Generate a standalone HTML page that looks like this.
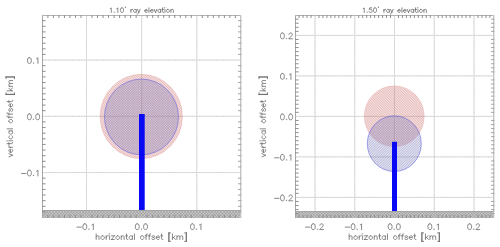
<!DOCTYPE html>
<html><head><meta charset="utf-8"><style>
html,body{margin:0;padding:0;background:#fff;}
body{width:500px;height:247px;overflow:hidden;}
svg{display:block;}
text{will-change:transform;text-rendering:geometricPrecision;stroke:#fff;stroke-width:0.35px;}
.t{font-family:"Liberation Sans",sans-serif;font-size:9px;fill:#606060;}
.tt{font-family:"Liberation Sans",sans-serif;font-size:7.1px;fill:#606060;}
.tx{font-family:"Liberation Sans",sans-serif;font-size:8.2px;fill:#606060;}
</style></head><body>
<svg width="500" height="247" viewBox="0 0 500 247" xmlns="http://www.w3.org/2000/svg">
<defs>
<pattern id="gnd" width="3" height="3" patternUnits="userSpaceOnUse"><rect x="0" y="0" width="1" height="1" fill="#9e9e9e"/><rect x="1" y="0" width="1" height="1" fill="#c2c2c2"/><rect x="2" y="0" width="1" height="1" fill="#c2c2c2"/><rect x="0" y="1" width="1" height="1" fill="#c2c2c2"/><rect x="1" y="1" width="1" height="1" fill="#aeaeae"/><rect x="2" y="1" width="1" height="1" fill="#aeaeae"/><rect x="0" y="2" width="1" height="1" fill="#c2c2c2"/><rect x="1" y="2" width="1" height="1" fill="#aeaeae"/><rect x="2" y="2" width="1" height="1" fill="#aeaeae"/></pattern>
<pattern id="hr" width="5" height="5" patternUnits="userSpaceOnUse"><g fill="rgb(198,95,95)"><rect x="0" y="0" width="1" height="1" fill-opacity="0.412"/><rect x="1" y="0" width="1" height="1" fill-opacity="0.210"/><rect x="2" y="0" width="1" height="1" fill-opacity="0.335"/><rect x="3" y="0" width="1" height="1" fill-opacity="0.335"/><rect x="4" y="0" width="1" height="1" fill-opacity="0.210"/><rect x="0" y="1" width="1" height="1" fill-opacity="0.210"/><rect x="1" y="1" width="1" height="1" fill-opacity="0.412"/><rect x="2" y="1" width="1" height="1" fill-opacity="0.210"/><rect x="3" y="1" width="1" height="1" fill-opacity="0.335"/><rect x="4" y="1" width="1" height="1" fill-opacity="0.335"/><rect x="0" y="2" width="1" height="1" fill-opacity="0.335"/><rect x="1" y="2" width="1" height="1" fill-opacity="0.210"/><rect x="2" y="2" width="1" height="1" fill-opacity="0.412"/><rect x="3" y="2" width="1" height="1" fill-opacity="0.210"/><rect x="4" y="2" width="1" height="1" fill-opacity="0.335"/><rect x="0" y="3" width="1" height="1" fill-opacity="0.335"/><rect x="1" y="3" width="1" height="1" fill-opacity="0.335"/><rect x="2" y="3" width="1" height="1" fill-opacity="0.210"/><rect x="3" y="3" width="1" height="1" fill-opacity="0.412"/><rect x="4" y="3" width="1" height="1" fill-opacity="0.210"/><rect x="0" y="4" width="1" height="1" fill-opacity="0.210"/><rect x="1" y="4" width="1" height="1" fill-opacity="0.335"/><rect x="2" y="4" width="1" height="1" fill-opacity="0.335"/><rect x="3" y="4" width="1" height="1" fill-opacity="0.210"/><rect x="4" y="4" width="1" height="1" fill-opacity="0.412"/></g></pattern>
<pattern id="hb" width="5" height="5" patternUnits="userSpaceOnUse"><g fill="rgb(127,127,188)"><rect x="0" y="0" width="1" height="1" fill-opacity="0.494"/><rect x="1" y="0" width="1" height="1" fill-opacity="0.252"/><rect x="2" y="0" width="1" height="1" fill-opacity="0.401"/><rect x="3" y="0" width="1" height="1" fill-opacity="0.401"/><rect x="4" y="0" width="1" height="1" fill-opacity="0.252"/><rect x="0" y="1" width="1" height="1" fill-opacity="0.252"/><rect x="1" y="1" width="1" height="1" fill-opacity="0.401"/><rect x="2" y="1" width="1" height="1" fill-opacity="0.401"/><rect x="3" y="1" width="1" height="1" fill-opacity="0.252"/><rect x="4" y="1" width="1" height="1" fill-opacity="0.494"/><rect x="0" y="2" width="1" height="1" fill-opacity="0.401"/><rect x="1" y="2" width="1" height="1" fill-opacity="0.401"/><rect x="2" y="2" width="1" height="1" fill-opacity="0.252"/><rect x="3" y="2" width="1" height="1" fill-opacity="0.494"/><rect x="4" y="2" width="1" height="1" fill-opacity="0.252"/><rect x="0" y="3" width="1" height="1" fill-opacity="0.401"/><rect x="1" y="3" width="1" height="1" fill-opacity="0.252"/><rect x="2" y="3" width="1" height="1" fill-opacity="0.494"/><rect x="3" y="3" width="1" height="1" fill-opacity="0.252"/><rect x="4" y="3" width="1" height="1" fill-opacity="0.401"/><rect x="0" y="4" width="1" height="1" fill-opacity="0.252"/><rect x="1" y="4" width="1" height="1" fill-opacity="0.494"/><rect x="2" y="4" width="1" height="1" fill-opacity="0.252"/><rect x="3" y="4" width="1" height="1" fill-opacity="0.401"/><rect x="4" y="4" width="1" height="1" fill-opacity="0.401"/></g></pattern>
</defs>
<rect width="500" height="247" fill="#fff"/>
<line x1="86.5" y1="16" x2="86.5" y2="218" stroke="#e2e2e2" stroke-width="1"/>
<line x1="86.5" y1="16" x2="86.5" y2="218" stroke="#d0d0d0" stroke-width="1" stroke-dasharray="1.2 1.2"/>
<line x1="43" y1="172.55" x2="241" y2="172.55" stroke="#e2e2e2" stroke-width="1"/>
<line x1="43" y1="172.55" x2="241" y2="172.55" stroke="#d0d0d0" stroke-width="1" stroke-dasharray="1.2 1.2"/>
<line x1="141.65" y1="16" x2="141.65" y2="218" stroke="#e2e2e2" stroke-width="1"/>
<line x1="141.65" y1="16" x2="141.65" y2="218" stroke="#d0d0d0" stroke-width="1" stroke-dasharray="1.2 1.2"/>
<line x1="43" y1="116.3" x2="241" y2="116.3" stroke="#e2e2e2" stroke-width="1"/>
<line x1="43" y1="116.3" x2="241" y2="116.3" stroke="#d0d0d0" stroke-width="1" stroke-dasharray="1.2 1.2"/>
<line x1="196.8" y1="16" x2="196.8" y2="218" stroke="#e2e2e2" stroke-width="1"/>
<line x1="196.8" y1="16" x2="196.8" y2="218" stroke="#d0d0d0" stroke-width="1" stroke-dasharray="1.2 1.2"/>
<line x1="43" y1="60.05" x2="241" y2="60.05" stroke="#e2e2e2" stroke-width="1"/>
<line x1="43" y1="60.05" x2="241" y2="60.05" stroke="#d0d0d0" stroke-width="1" stroke-dasharray="1.2 1.2"/>
<rect x="42" y="210" width="199" height="8" fill="url(#gnd)"/>
<ellipse cx="141.25" cy="116.5" rx="41.2" ry="42.2" fill="url(#hr)" stroke="rgba(215,115,115,0.35)" stroke-width="0.7"/>
<ellipse cx="141.45" cy="116.95" rx="37.0" ry="37.9" fill="url(#hb)" stroke="rgba(90,90,220,0.6)" stroke-width="0.9"/>
<rect x="139" y="114" width="5.7" height="96" fill="#0808f4"/>
<rect x="42" y="15" width="1" height="203" fill="#a6a6a6"/>
<rect x="42" y="15" width="199" height="1" fill="#b4b4b4"/>
<rect x="240" y="15" width="1.4" height="203" fill="#c4c4c4"/>
<rect x="42" y="210.0" width="199" height="1" fill="#a4a4a4"/>
<path d="M47.9,15v3M47.9,218v-3M42,211.93h3.6M53.41,15v3M53.41,218v-3M42,206.3h3.6M58.93,15v3M58.93,218v-3M42,200.68h3.6M64.44,15v3M64.44,218v-3M42,195.05h3.6M69.96,15v3M69.96,218v-3M42,189.43h3.6M75.47,15v3M75.47,218v-3M42,183.8h3.6M80.99,15v3M80.99,218v-3M42,178.18h3.6M92.02,15v3M92.02,218v-3M42,166.93h3.6M97.53,15v3M97.53,218v-3M42,161.3h3.6M103.05,15v3M103.05,218v-3M42,155.68h3.6M108.56,15v3M108.56,218v-3M42,150.05h3.6M114.08,15v3M114.08,218v-3M42,144.43h3.6M119.59,15v3M119.59,218v-3M42,138.8h3.6M125.11,15v3M125.11,218v-3M42,133.18h3.6M130.62,15v3M130.62,218v-3M42,127.55h3.6M136.14,15v3M136.14,218v-3M42,121.92h3.6M147.16,15v3M147.16,218v-3M42,110.67h3.6M152.68,15v3M152.68,218v-3M42,105.05h3.6M158.19,15v3M158.19,218v-3M42,99.42h3.6M163.71,15v3M163.71,218v-3M42,93.8h3.6M169.23,15v3M169.23,218v-3M42,88.17h3.6M174.74,15v3M174.74,218v-3M42,82.55h3.6M180.25,15v3M180.25,218v-3M42,76.92h3.6M185.77,15v3M185.77,218v-3M42,71.3h3.6M191.28,15v3M191.28,218v-3M42,65.67h3.6M202.31,15v3M202.31,218v-3M42,54.42h3.6M207.83,15v3M207.83,218v-3M42,48.8h3.6M213.34,15v3M213.34,218v-3M42,43.17h3.6M218.86,15v3M218.86,218v-3M42,37.55h3.6M224.38,15v3M224.38,218v-3M42,31.92h3.6M229.89,15v3M229.89,218v-3M42,26.3h3.6M235.41,15v3M235.41,218v-3M42,20.67h3.6" stroke="#8e8e8e" stroke-width="1" fill="none"/>
<path d="M241.4,211.93h-3.4M241.4,206.3h-3.4M241.4,200.68h-3.4M241.4,195.05h-3.4M241.4,189.43h-3.4M241.4,183.8h-3.4M241.4,178.18h-3.4M241.4,166.93h-3.4M241.4,161.3h-3.4M241.4,155.68h-3.4M241.4,150.05h-3.4M241.4,144.43h-3.4M241.4,138.8h-3.4M241.4,133.18h-3.4M241.4,127.55h-3.4M241.4,121.92h-3.4M241.4,110.67h-3.4M241.4,105.05h-3.4M241.4,99.42h-3.4M241.4,93.8h-3.4M241.4,88.17h-3.4M241.4,82.55h-3.4M241.4,76.92h-3.4M241.4,71.3h-3.4M241.4,65.67h-3.4M241.4,54.42h-3.4M241.4,48.8h-3.4M241.4,43.17h-3.4M241.4,37.55h-3.4M241.4,31.92h-3.4M241.4,26.3h-3.4M241.4,20.67h-3.4" stroke="#a6a6a6" stroke-width="1" fill="none"/>
<g fill="none" stroke="#606060" stroke-width="0.75" stroke-linecap="round" stroke-linejoin="round"><path d="M76.97,227.12L81.45,227.12M84.53,223.82L83.71,224.1L83.16,224.92L82.88,226.3L82.88,227.12L83.16,228.5L83.71,229.32L84.53,229.6L85.08,229.6L85.91,229.32L86.46,228.5L86.73,227.12L86.73,226.3L86.46,224.92L85.91,224.1L85.08,223.82L84.53,223.82M88.93,229.05L88.66,229.32L88.93,229.6L89.21,229.32L88.93,229.05M91.96,224.92L92.51,224.65L93.33,223.82L93.33,229.6"/><path d="M21.56,173.47L26.04,173.47M29.12,170.16L28.3,170.44L27.75,171.26L27.47,172.64L27.47,173.47L27.75,174.84L28.3,175.66L29.12,175.94L29.67,175.94L30.5,175.66L31.05,174.84L31.32,173.47L31.32,172.64L31.05,171.26L30.5,170.44L29.67,170.16L29.12,170.16M33.52,175.39L33.25,175.66L33.52,175.94L33.8,175.66L33.52,175.39M36.55,171.26L37.1,170.99L37.92,170.16L37.92,175.94"/><path d="M137,223.82L136.18,224.1L135.62,224.92L135.35,226.3L135.35,227.12L135.62,228.5L136.18,229.32L137,229.6L137.55,229.6L138.38,229.32L138.93,228.5L139.2,227.12L139.2,226.3L138.93,224.92L138.38,224.1L137.55,223.82L137,223.82M141.4,229.05L141.12,229.32L141.4,229.6L141.68,229.32L141.4,229.05M145.25,223.82L144.43,224.1L143.88,224.92L143.6,226.3L143.6,227.12L143.88,228.5L144.43,229.32L145.25,229.6L145.8,229.6L146.62,229.32L147.18,228.5L147.45,227.12L147.45,226.3L147.18,224.92L146.62,224.1L145.8,223.82L145.25,223.82"/><path d="M29.12,113.91L28.3,114.19L27.75,115.02L27.47,116.39L27.47,117.22L27.75,118.59L28.3,119.41L29.12,119.69L29.67,119.69L30.5,119.41L31.05,118.59L31.32,117.22L31.32,116.39L31.05,115.02L30.5,114.19L29.67,113.91L29.12,113.91M33.52,119.14L33.25,119.41L33.52,119.69L33.8,119.41L33.52,119.14M37.38,113.91L36.55,114.19L36,115.02L35.73,116.39L35.73,117.22L36,118.59L36.55,119.41L37.38,119.69L37.92,119.69L38.75,119.41L39.3,118.59L39.58,117.22L39.58,116.39L39.3,115.02L38.75,114.19L37.92,113.91L37.38,113.91"/><path d="M192.15,223.82L191.33,224.1L190.78,224.92L190.5,226.3L190.5,227.12L190.78,228.5L191.33,229.32L192.15,229.6L192.7,229.6L193.53,229.32L194.08,228.5L194.35,227.12L194.35,226.3L194.08,224.92L193.53,224.1L192.7,223.82L192.15,223.82M196.55,229.05L196.28,229.32L196.55,229.6L196.83,229.32L196.55,229.05M199.58,224.92L200.12,224.65L200.95,223.82L200.95,229.6"/><path d="M29.12,57.66L28.3,57.94L27.75,58.77L27.47,60.14L27.47,60.96L27.75,62.34L28.3,63.16L29.12,63.44L29.67,63.44L30.5,63.16L31.05,62.34L31.32,60.96L31.32,60.14L31.05,58.77L30.5,57.94L29.67,57.66L29.12,57.66M33.52,62.89L33.25,63.16L33.52,63.44L33.8,63.16L33.52,62.89M36.55,58.77L37.1,58.49L37.92,57.66L37.92,63.44"/><path d="M110.16,8.71L110.6,8.49L111.26,7.83L111.26,12.45M114.34,12.01L114.12,12.23L114.34,12.45L114.56,12.23L114.34,12.01M116.75,8.71L117.19,8.49L117.85,7.83L117.85,12.45M121.81,7.83L121.15,8.05L120.71,8.71L120.49,9.81L120.49,10.47L120.71,11.57L121.15,12.23L121.81,12.45L122.25,12.45L122.91,12.23L123.35,11.57L123.57,10.47L123.57,9.81L123.35,8.71L122.91,8.05L122.25,7.83L121.81,7.83M130.92,9.37L130.92,12.45M130.92,10.69L131.14,10.03L131.58,9.59L132.02,9.37L132.68,9.37M136.19,9.37L136.19,12.45M136.19,10.03L135.75,9.59L135.32,9.37L134.66,9.37L134.22,9.59L133.78,10.03L133.56,10.69L133.56,11.13L133.78,11.79L134.22,12.23L134.66,12.45L135.32,12.45L135.75,12.23L136.19,11.79M137.51,9.37L138.83,12.45M140.15,9.37L138.83,12.45L138.39,13.33L137.95,13.77L137.51,13.99L137.29,13.99M144.77,10.69L147.4,10.69L147.4,10.25L147.18,9.81L146.96,9.59L146.53,9.37L145.87,9.37L145.43,9.59L144.99,10.03L144.77,10.69L144.77,11.13L144.99,11.79L145.43,12.23L145.87,12.45L146.53,12.45L146.96,12.23L147.4,11.79M148.94,7.83L148.94,12.45M150.48,10.69L153.12,10.69L153.12,10.25L152.9,9.81L152.68,9.59L152.24,9.37L151.58,9.37L151.14,9.59L150.7,10.03L150.48,10.69L150.48,11.13L150.7,11.79L151.14,12.23L151.58,12.45L152.24,12.45L152.68,12.23L153.12,11.79M154.22,9.37L155.54,12.45M156.86,9.37L155.54,12.45M160.59,9.37L160.59,12.45M160.59,10.03L160.15,9.59L159.71,9.37L159.05,9.37L158.61,9.59L158.17,10.03L157.95,10.69L157.95,11.13L158.17,11.79L158.61,12.23L159.05,12.45L159.71,12.45L160.15,12.23L160.59,11.79M162.57,7.83L162.57,11.57L162.79,12.23L163.23,12.45L163.67,12.45M161.91,9.37L163.45,9.37M164.77,7.83L164.99,8.05L165.21,7.83L164.99,7.61L164.77,7.83M164.99,9.37L164.99,12.45M167.63,9.37L167.19,9.59L166.75,10.03L166.53,10.69L166.53,11.13L166.75,11.79L167.19,12.23L167.63,12.45L168.29,12.45L168.72,12.23L169.16,11.79L169.38,11.13L169.38,10.69L169.16,10.03L168.72,9.59L168.29,9.37L167.63,9.37M170.92,9.37L170.92,12.45M170.92,10.25L171.58,9.59L172.02,9.37L172.68,9.37L173.12,9.59L173.34,10.25L173.34,12.45"/><circle cx="125.37" cy="7.14" r="0.6" fill="#606060" stroke="none"/><path d="M96.16,233.96L96.16,239.5M96.16,236.86L96.95,236.07L97.48,235.8L98.27,235.8L98.8,236.07L99.06,236.86L99.06,239.5M102.23,235.8L101.7,236.07L101.17,236.6L100.91,237.39L100.91,237.92L101.17,238.71L101.7,239.24L102.23,239.5L103.02,239.5L103.55,239.24L104.08,238.71L104.34,237.92L104.34,237.39L104.08,236.6L103.55,236.07L103.02,235.8L102.23,235.8M106.19,235.8L106.19,239.5M106.19,237.39L106.45,236.6L106.98,236.07L107.51,235.8L108.3,235.8M109.36,233.96L109.62,234.22L109.88,233.96L109.62,233.69L109.36,233.96M109.62,235.8L109.62,239.5M114.37,235.8L111.47,239.5M111.47,235.8L114.37,235.8M111.47,239.5L114.37,239.5M117.28,235.8L116.75,236.07L116.22,236.6L115.96,237.39L115.96,237.92L116.22,238.71L116.75,239.24L117.28,239.5L118.07,239.5L118.6,239.24L119.12,238.71L119.39,237.92L119.39,237.39L119.12,236.6L118.6,236.07L118.07,235.8L117.28,235.8M121.24,235.8L121.24,239.5M121.24,236.86L122.03,236.07L122.56,235.8L123.35,235.8L123.88,236.07L124.14,236.86L124.14,239.5M126.52,233.96L126.52,238.44L126.78,239.24L127.31,239.5L127.84,239.5M125.72,235.8L127.57,235.8M132.32,235.8L132.32,239.5M132.32,236.6L131.8,236.07L131.27,235.8L130.48,235.8L129.95,236.07L129.42,236.6L129.16,237.39L129.16,237.92L129.42,238.71L129.95,239.24L130.48,239.5L131.27,239.5L131.8,239.24L132.32,238.71M134.44,233.96L134.44,239.5M141.83,235.8L141.3,236.07L140.77,236.6L140.51,237.39L140.51,237.92L140.77,238.71L141.3,239.24L141.83,239.5L142.62,239.5L143.15,239.24L143.68,238.71L143.94,237.92L143.94,237.39L143.68,236.6L143.15,236.07L142.62,235.8L141.83,235.8M147.37,233.96L146.84,233.96L146.32,234.22L146.05,235.01L146.05,239.5M145.26,235.8L147.11,235.8M150.54,233.96L150.01,233.96L149.48,234.22L149.22,235.01L149.22,239.5M148.43,235.8L150.28,235.8M154.76,236.6L154.5,236.07L153.71,235.8L152.92,235.8L152.12,236.07L151.86,236.6L152.12,237.12L152.65,237.39L153.97,237.65L154.5,237.92L154.76,238.44L154.76,238.71L154.5,239.24L153.71,239.5L152.92,239.5L152.12,239.24L151.86,238.71M156.35,237.39L159.52,237.39L159.52,236.86L159.25,236.33L158.99,236.07L158.46,235.8L157.67,235.8L157.14,236.07L156.61,236.6L156.35,237.39L156.35,237.92L156.61,238.71L157.14,239.24L157.67,239.5L158.46,239.5L158.99,239.24L159.52,238.71M161.63,233.96L161.63,238.44L161.89,239.24L162.42,239.5L162.95,239.5M160.84,235.8L162.68,235.8M168.76,232.9L168.76,241.35M169.02,232.9L169.02,241.35M168.76,232.9L170.6,232.9M168.76,241.35L170.6,241.35M172.45,233.96L172.45,239.5M175.09,235.8L172.45,238.44M173.51,237.39L175.36,239.5M176.94,235.8L176.94,239.5M176.94,236.86L177.73,236.07L178.26,235.8L179.05,235.8L179.58,236.07L179.84,236.86L179.84,239.5M179.84,236.86L180.64,236.07L181.16,235.8L181.96,235.8L182.48,236.07L182.75,236.86L182.75,239.5M186.18,232.9L186.18,241.35M186.44,232.9L186.44,241.35M184.6,232.9L186.44,232.9M184.6,241.35L186.44,241.35"/><path d="M8.9,156.85L12.6,155.26M8.9,153.68L12.6,155.26M10.49,152.36L10.49,149.19L9.96,149.19L9.43,149.45L9.17,149.72L8.9,150.25L8.9,151.04L9.17,151.57L9.7,152.09L10.49,152.36L11.02,152.36L11.81,152.09L12.34,151.57L12.6,151.04L12.6,150.25L12.34,149.72L11.81,149.19M8.9,147.34L12.6,147.34M10.49,147.34L9.7,147.08L9.17,146.55L8.9,146.02L8.9,145.23M7.06,143.65L11.54,143.65L12.34,143.38L12.6,142.85L12.6,142.33M8.9,144.44L8.9,142.59M7.06,141.01L7.32,140.74L7.06,140.48L6.79,140.74L7.06,141.01M8.9,140.74L12.6,140.74M9.7,135.73L9.17,136.25L8.9,136.78L8.9,137.57L9.17,138.1L9.7,138.63L10.49,138.89L11.02,138.89L11.81,138.63L12.34,138.1L12.6,137.57L12.6,136.78L12.34,136.25L11.81,135.73M8.9,130.97L12.6,130.97M9.7,130.97L9.17,131.5L8.9,132.03L8.9,132.82L9.17,133.35L9.7,133.88L10.49,134.14L11.02,134.14L11.81,133.88L12.34,133.35L12.6,132.82L12.6,132.03L12.34,131.5L11.81,130.97M7.06,128.86L12.6,128.86M8.9,121.47L9.17,122L9.7,122.53L10.49,122.79L11.02,122.79L11.81,122.53L12.34,122L12.6,121.47L12.6,120.68L12.34,120.15L11.81,119.62L11.02,119.36L10.49,119.36L9.7,119.62L9.17,120.15L8.9,120.68L8.9,121.47M7.06,115.93L7.06,116.45L7.32,116.98L8.11,117.25L12.6,117.25M8.9,118.04L8.9,116.19M7.06,112.76L7.06,113.29L7.32,113.81L8.11,114.08L12.6,114.08M8.9,114.87L8.9,113.02M9.7,108.53L9.17,108.8L8.9,109.59L8.9,110.38L9.17,111.17L9.7,111.44L10.22,111.17L10.49,110.65L10.75,109.33L11.02,108.8L11.54,108.53L11.81,108.53L12.34,108.8L12.6,109.59L12.6,110.38L12.34,111.17L11.81,111.44M10.49,106.95L10.49,103.78L9.96,103.78L9.43,104.05L9.17,104.31L8.9,104.84L8.9,105.63L9.17,106.16L9.7,106.69L10.49,106.95L11.02,106.95L11.81,106.69L12.34,106.16L12.6,105.63L12.6,104.84L12.34,104.31L11.81,103.78M7.06,101.67L11.54,101.67L12.34,101.41L12.6,100.88L12.6,100.35M8.9,102.46L8.9,100.61M6,94.54L14.45,94.54M6,94.28L14.45,94.28M6,94.54L6,92.69M14.45,94.54L14.45,92.69M7.06,90.85L12.6,90.85M8.9,88.21L11.54,90.85M10.49,89.79L12.6,87.94M8.9,86.36L12.6,86.36M9.96,86.36L9.17,85.57L8.9,85.04L8.9,84.25L9.17,83.72L9.96,83.45L12.6,83.45M9.96,83.45L9.17,82.66L8.9,82.13L8.9,81.34L9.17,80.81L9.96,80.55L12.6,80.55M6,77.12L14.45,77.12M6,76.85L14.45,76.85M6,78.7L6,76.85M14.45,78.7L14.45,76.85"/></g>
<line x1="315" y1="16" x2="315" y2="218" stroke="#e2e2e2" stroke-width="1"/>
<line x1="315" y1="16" x2="315" y2="218" stroke="#d0d0d0" stroke-width="1" stroke-dasharray="1.2 1.2"/>
<line x1="296.0" y1="197.4" x2="494.0" y2="197.4" stroke="#e2e2e2" stroke-width="1"/>
<line x1="296.0" y1="197.4" x2="494.0" y2="197.4" stroke="#d0d0d0" stroke-width="1" stroke-dasharray="1.2 1.2"/>
<line x1="354.75" y1="16" x2="354.75" y2="218" stroke="#e2e2e2" stroke-width="1"/>
<line x1="354.75" y1="16" x2="354.75" y2="218" stroke="#d0d0d0" stroke-width="1" stroke-dasharray="1.2 1.2"/>
<line x1="296.0" y1="156.9" x2="494.0" y2="156.9" stroke="#e2e2e2" stroke-width="1"/>
<line x1="296.0" y1="156.9" x2="494.0" y2="156.9" stroke="#d0d0d0" stroke-width="1" stroke-dasharray="1.2 1.2"/>
<line x1="394.5" y1="16" x2="394.5" y2="218" stroke="#e2e2e2" stroke-width="1"/>
<line x1="394.5" y1="16" x2="394.5" y2="218" stroke="#d0d0d0" stroke-width="1" stroke-dasharray="1.2 1.2"/>
<line x1="296.0" y1="116.4" x2="494.0" y2="116.4" stroke="#e2e2e2" stroke-width="1"/>
<line x1="296.0" y1="116.4" x2="494.0" y2="116.4" stroke="#d0d0d0" stroke-width="1" stroke-dasharray="1.2 1.2"/>
<line x1="434.25" y1="16" x2="434.25" y2="218" stroke="#e2e2e2" stroke-width="1"/>
<line x1="434.25" y1="16" x2="434.25" y2="218" stroke="#d0d0d0" stroke-width="1" stroke-dasharray="1.2 1.2"/>
<line x1="296.0" y1="75.9" x2="494.0" y2="75.9" stroke="#e2e2e2" stroke-width="1"/>
<line x1="296.0" y1="75.9" x2="494.0" y2="75.9" stroke="#d0d0d0" stroke-width="1" stroke-dasharray="1.2 1.2"/>
<line x1="474" y1="16" x2="474" y2="218" stroke="#e2e2e2" stroke-width="1"/>
<line x1="474" y1="16" x2="474" y2="218" stroke="#d0d0d0" stroke-width="1" stroke-dasharray="1.2 1.2"/>
<line x1="296.0" y1="35.4" x2="494.0" y2="35.4" stroke="#e2e2e2" stroke-width="1"/>
<line x1="296.0" y1="35.4" x2="494.0" y2="35.4" stroke="#d0d0d0" stroke-width="1" stroke-dasharray="1.2 1.2"/>
<rect x="295.0" y="211" width="199" height="7" fill="url(#gnd)"/>
<ellipse cx="394.25" cy="116.25" rx="30.05" ry="30.4" fill="url(#hr)" stroke="rgba(215,115,115,0.3)" stroke-width="0.6"/>
<ellipse cx="394.3" cy="143.65" rx="27.0" ry="27.85" fill="url(#hb)" stroke="rgba(90,90,220,0.6)" stroke-width="0.9"/>
<rect x="392" y="141.8" width="5" height="69.2" fill="#0808f4"/>
<rect x="295.0" y="15" width="1" height="203" fill="#a6a6a6"/>
<rect x="295.0" y="15" width="199.0" height="1" fill="#b4b4b4"/>
<rect x="493.0" y="15" width="1.4" height="203" fill="#c4c4c4"/>
<rect x="295.0" y="211.0" width="199.0" height="1" fill="#a4a4a4"/>
<path d="M299.1,15v3M299.1,218v-3M295.0,213.6h3.6M303.07,15v3M303.07,218v-3M295.0,209.55h3.6M307.05,15v3M307.05,218v-3M295.0,205.5h3.6M311.02,15v3M311.02,218v-3M295.0,201.45h3.6M318.98,15v3M318.98,218v-3M295.0,193.35h3.6M322.95,15v3M322.95,218v-3M295.0,189.3h3.6M326.93,15v3M326.93,218v-3M295.0,185.25h3.6M330.9,15v3M330.9,218v-3M295.0,181.2h3.6M334.88,15v3M334.88,218v-3M295.0,177.15h3.6M338.85,15v3M338.85,218v-3M295.0,173.1h3.6M342.82,15v3M342.82,218v-3M295.0,169.05h3.6M346.8,15v3M346.8,218v-3M295.0,165h3.6M350.77,15v3M350.77,218v-3M295.0,160.95h3.6M358.73,15v3M358.73,218v-3M295.0,152.85h3.6M362.7,15v3M362.7,218v-3M295.0,148.8h3.6M366.68,15v3M366.68,218v-3M295.0,144.75h3.6M370.65,15v3M370.65,218v-3M295.0,140.7h3.6M374.62,15v3M374.62,218v-3M295.0,136.65h3.6M378.6,15v3M378.6,218v-3M295.0,132.6h3.6M382.57,15v3M382.57,218v-3M295.0,128.55h3.6M386.55,15v3M386.55,218v-3M295.0,124.5h3.6M390.52,15v3M390.52,218v-3M295.0,120.45h3.6M398.48,15v3M398.48,218v-3M295.0,112.35h3.6M402.45,15v3M402.45,218v-3M295.0,108.3h3.6M406.43,15v3M406.43,218v-3M295.0,104.25h3.6M410.4,15v3M410.4,218v-3M295.0,100.2h3.6M414.38,15v3M414.38,218v-3M295.0,96.15h3.6M418.35,15v3M418.35,218v-3M295.0,92.1h3.6M422.32,15v3M422.32,218v-3M295.0,88.05h3.6M426.3,15v3M426.3,218v-3M295.0,84h3.6M430.27,15v3M430.27,218v-3M295.0,79.95h3.6M438.23,15v3M438.23,218v-3M295.0,71.85h3.6M442.2,15v3M442.2,218v-3M295.0,67.8h3.6M446.18,15v3M446.18,218v-3M295.0,63.75h3.6M450.15,15v3M450.15,218v-3M295.0,59.7h3.6M454.12,15v3M454.12,218v-3M295.0,55.65h3.6M458.1,15v3M458.1,218v-3M295.0,51.6h3.6M462.07,15v3M462.07,218v-3M295.0,47.55h3.6M466.05,15v3M466.05,218v-3M295.0,43.5h3.6M470.02,15v3M470.02,218v-3M295.0,39.45h3.6M477.98,15v3M477.98,218v-3M295.0,31.35h3.6M481.95,15v3M481.95,218v-3M295.0,27.3h3.6M485.93,15v3M485.93,218v-3M295.0,23.25h3.6M489.9,15v3M489.9,218v-3M295.0,19.2h3.6" stroke="#8e8e8e" stroke-width="1" fill="none"/>
<path d="M494.4,213.6h-3.4M494.4,209.55h-3.4M494.4,205.5h-3.4M494.4,201.45h-3.4M494.4,193.35h-3.4M494.4,189.3h-3.4M494.4,185.25h-3.4M494.4,181.2h-3.4M494.4,177.15h-3.4M494.4,173.1h-3.4M494.4,169.05h-3.4M494.4,165h-3.4M494.4,160.95h-3.4M494.4,152.85h-3.4M494.4,148.8h-3.4M494.4,144.75h-3.4M494.4,140.7h-3.4M494.4,136.65h-3.4M494.4,132.6h-3.4M494.4,128.55h-3.4M494.4,124.5h-3.4M494.4,120.45h-3.4M494.4,112.35h-3.4M494.4,108.3h-3.4M494.4,104.25h-3.4M494.4,100.2h-3.4M494.4,96.15h-3.4M494.4,92.1h-3.4M494.4,88.05h-3.4M494.4,84h-3.4M494.4,79.95h-3.4M494.4,71.85h-3.4M494.4,67.8h-3.4M494.4,63.75h-3.4M494.4,59.7h-3.4M494.4,55.65h-3.4M494.4,51.6h-3.4M494.4,47.55h-3.4M494.4,43.5h-3.4M494.4,39.45h-3.4M494.4,31.35h-3.4M494.4,27.3h-3.4M494.4,23.25h-3.4M494.4,19.2h-3.4" stroke="#a6a6a6" stroke-width="1" fill="none"/>
<g fill="none" stroke="#606060" stroke-width="0.75" stroke-linecap="round" stroke-linejoin="round"><path d="M305.47,227.12L309.95,227.12M313.03,223.82L312.21,224.1L311.66,224.92L311.38,226.3L311.38,227.12L311.66,228.5L312.21,229.32L313.03,229.6L313.58,229.6L314.41,229.32L314.96,228.5L315.23,227.12L315.23,226.3L314.96,224.92L314.41,224.1L313.58,223.82L313.03,223.82M317.43,229.05L317.16,229.32L317.43,229.6L317.71,229.32L317.43,229.05M319.91,225.2L319.91,224.92L320.18,224.38L320.46,224.1L321.01,223.82L322.11,223.82L322.66,224.1L322.93,224.38L323.21,224.92L323.21,225.47L322.93,226.03L322.38,226.85L319.63,229.6L323.48,229.6"/><path d="M274.56,198.31L279.04,198.31M282.12,195.01L281.3,195.29L280.75,196.11L280.47,197.49L280.47,198.31L280.75,199.69L281.3,200.51L282.12,200.79L282.67,200.79L283.5,200.51L284.05,199.69L284.32,198.31L284.32,197.49L284.05,196.11L283.5,195.29L282.67,195.01L282.12,195.01M286.52,200.24L286.25,200.51L286.52,200.79L286.8,200.51L286.52,200.24M289,196.39L289,196.11L289.27,195.56L289.55,195.29L290.1,195.01L291.2,195.01L291.75,195.29L292.02,195.56L292.3,196.11L292.3,196.66L292.02,197.22L291.47,198.04L288.72,200.79L292.57,200.79"/><path d="M345.22,227.12L349.7,227.12M352.78,223.82L351.96,224.1L351.41,224.92L351.13,226.3L351.13,227.12L351.41,228.5L351.96,229.32L352.78,229.6L353.33,229.6L354.16,229.32L354.71,228.5L354.98,227.12L354.98,226.3L354.71,224.92L354.16,224.1L353.33,223.82L352.78,223.82M357.18,229.05L356.91,229.32L357.18,229.6L357.46,229.32L357.18,229.05M360.21,224.92L360.76,224.65L361.58,223.82L361.58,229.6"/><path d="M274.56,157.81L279.04,157.81M282.12,154.51L281.3,154.79L280.75,155.61L280.47,156.99L280.47,157.81L280.75,159.19L281.3,160.01L282.12,160.29L282.67,160.29L283.5,160.01L284.05,159.19L284.32,157.81L284.32,156.99L284.05,155.61L283.5,154.79L282.67,154.51L282.12,154.51M286.52,159.74L286.25,160.01L286.52,160.29L286.8,160.01L286.52,159.74M289.55,155.61L290.1,155.34L290.92,154.51L290.92,160.29"/><path d="M389.85,223.82L389.02,224.1L388.48,224.92L388.2,226.3L388.2,227.12L388.48,228.5L389.02,229.32L389.85,229.6L390.4,229.6L391.23,229.32L391.77,228.5L392.05,227.12L392.05,226.3L391.77,224.92L391.23,224.1L390.4,223.82L389.85,223.82M394.25,229.05L393.98,229.32L394.25,229.6L394.52,229.32L394.25,229.05M398.1,223.82L397.27,224.1L396.73,224.92L396.45,226.3L396.45,227.12L396.73,228.5L397.27,229.32L398.1,229.6L398.65,229.6L399.48,229.32L400.02,228.5L400.3,227.12L400.3,226.3L400.02,224.92L399.48,224.1L398.65,223.82L398.1,223.82"/><path d="M282.12,114.02L281.3,114.29L280.75,115.12L280.47,116.49L280.47,117.32L280.75,118.69L281.3,119.52L282.12,119.79L282.67,119.79L283.5,119.52L284.05,118.69L284.32,117.32L284.32,116.49L284.05,115.12L283.5,114.29L282.67,114.02L282.12,114.02M286.52,119.24L286.25,119.52L286.52,119.79L286.8,119.52L286.52,119.24M290.38,114.02L289.55,114.29L289,115.12L288.72,116.49L288.72,117.32L289,118.69L289.55,119.52L290.38,119.79L290.92,119.79L291.75,119.52L292.3,118.69L292.57,117.32L292.57,116.49L292.3,115.12L291.75,114.29L290.92,114.02L290.38,114.02"/><path d="M429.6,223.82L428.77,224.1L428.23,224.92L427.95,226.3L427.95,227.12L428.23,228.5L428.77,229.32L429.6,229.6L430.15,229.6L430.98,229.32L431.52,228.5L431.8,227.12L431.8,226.3L431.52,224.92L430.98,224.1L430.15,223.82L429.6,223.82M434,229.05L433.73,229.32L434,229.6L434.27,229.32L434,229.05M437.02,224.92L437.57,224.65L438.4,223.82L438.4,229.6"/><path d="M282.12,73.52L281.3,73.79L280.75,74.62L280.47,75.99L280.47,76.82L280.75,78.19L281.3,79.02L282.12,79.29L282.67,79.29L283.5,79.02L284.05,78.19L284.32,76.82L284.32,75.99L284.05,74.62L283.5,73.79L282.67,73.52L282.12,73.52M286.52,78.74L286.25,79.02L286.52,79.29L286.8,79.02L286.52,78.74M289.55,74.62L290.1,74.34L290.92,73.52L290.92,79.29"/><path d="M469.35,223.82L468.52,224.1L467.98,224.92L467.7,226.3L467.7,227.12L467.98,228.5L468.52,229.32L469.35,229.6L469.9,229.6L470.73,229.32L471.27,228.5L471.55,227.12L471.55,226.3L471.27,224.92L470.73,224.1L469.9,223.82L469.35,223.82M473.75,229.05L473.48,229.32L473.75,229.6L474.02,229.32L473.75,229.05M476.23,225.2L476.23,224.92L476.5,224.38L476.77,224.1L477.32,223.82L478.43,223.82L478.98,224.1L479.25,224.38L479.52,224.92L479.52,225.47L479.25,226.03L478.7,226.85L475.95,229.6L479.8,229.6"/><path d="M282.12,33.02L281.3,33.29L280.75,34.12L280.47,35.49L280.47,36.32L280.75,37.69L281.3,38.52L282.12,38.79L282.67,38.79L283.5,38.52L284.05,37.69L284.32,36.32L284.32,35.49L284.05,34.12L283.5,33.29L282.67,33.02L282.12,33.02M286.52,38.24L286.25,38.52L286.52,38.79L286.8,38.52L286.52,38.24M289,34.39L289,34.12L289.27,33.57L289.55,33.29L290.1,33.02L291.2,33.02L291.75,33.29L292.02,33.57L292.3,34.12L292.3,34.67L292.02,35.22L291.47,36.04L288.72,38.79L292.57,38.79"/><path d="M363.16,8.71L363.6,8.49L364.26,7.83L364.26,12.45M367.34,12.01L367.12,12.23L367.34,12.45L367.56,12.23L367.34,12.01M371.73,7.83L369.53,7.83L369.31,9.81L369.53,9.59L370.19,9.37L370.85,9.37L371.51,9.59L371.95,10.03L372.17,10.69L372.17,11.13L371.95,11.79L371.51,12.23L370.85,12.45L370.19,12.45L369.53,12.23L369.31,12.01L369.09,11.57M374.81,7.83L374.15,8.05L373.71,8.71L373.49,9.81L373.49,10.47L373.71,11.57L374.15,12.23L374.81,12.45L375.25,12.45L375.91,12.23L376.35,11.57L376.57,10.47L376.57,9.81L376.35,8.71L375.91,8.05L375.25,7.83L374.81,7.83M383.92,9.37L383.92,12.45M383.92,10.69L384.14,10.03L384.58,9.59L385.02,9.37L385.68,9.37M389.19,9.37L389.19,12.45M389.19,10.03L388.75,9.59L388.32,9.37L387.66,9.37L387.22,9.59L386.78,10.03L386.56,10.69L386.56,11.13L386.78,11.79L387.22,12.23L387.66,12.45L388.32,12.45L388.75,12.23L389.19,11.79M390.51,9.37L391.83,12.45M393.15,9.37L391.83,12.45L391.39,13.33L390.95,13.77L390.51,13.99L390.29,13.99M397.77,10.69L400.4,10.69L400.4,10.25L400.18,9.81L399.96,9.59L399.53,9.37L398.87,9.37L398.43,9.59L397.99,10.03L397.77,10.69L397.77,11.13L397.99,11.79L398.43,12.23L398.87,12.45L399.53,12.45L399.96,12.23L400.4,11.79M401.94,7.83L401.94,12.45M403.48,10.69L406.12,10.69L406.12,10.25L405.9,9.81L405.68,9.59L405.24,9.37L404.58,9.37L404.14,9.59L403.7,10.03L403.48,10.69L403.48,11.13L403.7,11.79L404.14,12.23L404.58,12.45L405.24,12.45L405.68,12.23L406.12,11.79M407.22,9.37L408.54,12.45M409.86,9.37L408.54,12.45M413.59,9.37L413.59,12.45M413.59,10.03L413.15,9.59L412.71,9.37L412.05,9.37L411.61,9.59L411.17,10.03L410.95,10.69L410.95,11.13L411.17,11.79L411.61,12.23L412.05,12.45L412.71,12.45L413.15,12.23L413.59,11.79M415.57,7.83L415.57,11.57L415.79,12.23L416.23,12.45L416.67,12.45M414.91,9.37L416.45,9.37M417.77,7.83L417.99,8.05L418.21,7.83L417.99,7.61L417.77,7.83M417.99,9.37L417.99,12.45M420.63,9.37L420.19,9.59L419.75,10.03L419.53,10.69L419.53,11.13L419.75,11.79L420.19,12.23L420.63,12.45L421.29,12.45L421.72,12.23L422.16,11.79L422.38,11.13L422.38,10.69L422.16,10.03L421.72,9.59L421.29,9.37L420.63,9.37M423.92,9.37L423.92,12.45M423.92,10.25L424.58,9.59L425.02,9.37L425.68,9.37L426.12,9.59L426.34,10.25L426.34,12.45"/><circle cx="378.37" cy="7.14" r="0.6" fill="#606060" stroke="none"/><path d="M349.16,233.96L349.16,239.5M349.16,236.86L349.95,236.07L350.48,235.8L351.27,235.8L351.8,236.07L352.06,236.86L352.06,239.5M355.23,235.8L354.7,236.07L354.17,236.6L353.91,237.39L353.91,237.92L354.17,238.71L354.7,239.24L355.23,239.5L356.02,239.5L356.55,239.24L357.08,238.71L357.34,237.92L357.34,237.39L357.08,236.6L356.55,236.07L356.02,235.8L355.23,235.8M359.19,235.8L359.19,239.5M359.19,237.39L359.45,236.6L359.98,236.07L360.51,235.8L361.3,235.8M362.36,233.96L362.62,234.22L362.88,233.96L362.62,233.69L362.36,233.96M362.62,235.8L362.62,239.5M367.37,235.8L364.47,239.5M364.47,235.8L367.37,235.8M364.47,239.5L367.37,239.5M370.28,235.8L369.75,236.07L369.22,236.6L368.96,237.39L368.96,237.92L369.22,238.71L369.75,239.24L370.28,239.5L371.07,239.5L371.6,239.24L372.12,238.71L372.39,237.92L372.39,237.39L372.12,236.6L371.6,236.07L371.07,235.8L370.28,235.8M374.24,235.8L374.24,239.5M374.24,236.86L375.03,236.07L375.56,235.8L376.35,235.8L376.88,236.07L377.14,236.86L377.14,239.5M379.52,233.96L379.52,238.44L379.78,239.24L380.31,239.5L380.84,239.5M378.72,235.8L380.57,235.8M385.32,235.8L385.32,239.5M385.32,236.6L384.8,236.07L384.27,235.8L383.48,235.8L382.95,236.07L382.42,236.6L382.16,237.39L382.16,237.92L382.42,238.71L382.95,239.24L383.48,239.5L384.27,239.5L384.8,239.24L385.32,238.71M387.44,233.96L387.44,239.5M394.83,235.8L394.3,236.07L393.77,236.6L393.51,237.39L393.51,237.92L393.77,238.71L394.3,239.24L394.83,239.5L395.62,239.5L396.15,239.24L396.68,238.71L396.94,237.92L396.94,237.39L396.68,236.6L396.15,236.07L395.62,235.8L394.83,235.8M400.37,233.96L399.84,233.96L399.32,234.22L399.05,235.01L399.05,239.5M398.26,235.8L400.11,235.8M403.54,233.96L403.01,233.96L402.48,234.22L402.22,235.01L402.22,239.5M401.43,235.8L403.28,235.8M407.76,236.6L407.5,236.07L406.71,235.8L405.92,235.8L405.12,236.07L404.86,236.6L405.12,237.12L405.65,237.39L406.97,237.65L407.5,237.92L407.76,238.44L407.76,238.71L407.5,239.24L406.71,239.5L405.92,239.5L405.12,239.24L404.86,238.71M409.35,237.39L412.52,237.39L412.52,236.86L412.25,236.33L411.99,236.07L411.46,235.8L410.67,235.8L410.14,236.07L409.61,236.6L409.35,237.39L409.35,237.92L409.61,238.71L410.14,239.24L410.67,239.5L411.46,239.5L411.99,239.24L412.52,238.71M414.63,233.96L414.63,238.44L414.89,239.24L415.42,239.5L415.95,239.5M413.84,235.8L415.68,235.8M421.76,232.9L421.76,241.35M422.02,232.9L422.02,241.35M421.76,232.9L423.6,232.9M421.76,241.35L423.6,241.35M425.45,233.96L425.45,239.5M428.09,235.8L425.45,238.44M426.51,237.39L428.36,239.5M429.94,235.8L429.94,239.5M429.94,236.86L430.73,236.07L431.26,235.8L432.05,235.8L432.58,236.07L432.84,236.86L432.84,239.5M432.84,236.86L433.64,236.07L434.16,235.8L434.96,235.8L435.48,236.07L435.75,236.86L435.75,239.5M439.18,232.9L439.18,241.35M439.44,232.9L439.44,241.35M437.6,232.9L439.44,232.9M437.6,241.35L439.44,241.35"/><path d="M261.9,156.85L265.6,155.26M261.9,153.68L265.6,155.26M263.49,152.36L263.49,149.19L262.96,149.19L262.43,149.45L262.17,149.72L261.9,150.25L261.9,151.04L262.17,151.57L262.7,152.09L263.49,152.36L264.02,152.36L264.81,152.09L265.34,151.57L265.6,151.04L265.6,150.25L265.34,149.72L264.81,149.19M261.9,147.34L265.6,147.34M263.49,147.34L262.7,147.08L262.17,146.55L261.9,146.02L261.9,145.23M260.06,143.65L264.54,143.65L265.34,143.38L265.6,142.85L265.6,142.33M261.9,144.44L261.9,142.59M260.06,141.01L260.32,140.74L260.06,140.48L259.79,140.74L260.06,141.01M261.9,140.74L265.6,140.74M262.7,135.73L262.17,136.25L261.9,136.78L261.9,137.57L262.17,138.1L262.7,138.63L263.49,138.89L264.02,138.89L264.81,138.63L265.34,138.1L265.6,137.57L265.6,136.78L265.34,136.25L264.81,135.73M261.9,130.97L265.6,130.97M262.7,130.97L262.17,131.5L261.9,132.03L261.9,132.82L262.17,133.35L262.7,133.88L263.49,134.14L264.02,134.14L264.81,133.88L265.34,133.35L265.6,132.82L265.6,132.03L265.34,131.5L264.81,130.97M260.06,128.86L265.6,128.86M261.9,121.47L262.17,122L262.7,122.53L263.49,122.79L264.02,122.79L264.81,122.53L265.34,122L265.6,121.47L265.6,120.68L265.34,120.15L264.81,119.62L264.02,119.36L263.49,119.36L262.7,119.62L262.17,120.15L261.9,120.68L261.9,121.47M260.06,115.93L260.06,116.45L260.32,116.98L261.11,117.25L265.6,117.25M261.9,118.04L261.9,116.19M260.06,112.76L260.06,113.29L260.32,113.81L261.11,114.08L265.6,114.08M261.9,114.87L261.9,113.02M262.7,108.53L262.17,108.8L261.9,109.59L261.9,110.38L262.17,111.17L262.7,111.44L263.22,111.17L263.49,110.65L263.75,109.33L264.02,108.8L264.54,108.53L264.81,108.53L265.34,108.8L265.6,109.59L265.6,110.38L265.34,111.17L264.81,111.44M263.49,106.95L263.49,103.78L262.96,103.78L262.43,104.05L262.17,104.31L261.9,104.84L261.9,105.63L262.17,106.16L262.7,106.69L263.49,106.95L264.02,106.95L264.81,106.69L265.34,106.16L265.6,105.63L265.6,104.84L265.34,104.31L264.81,103.78M260.06,101.67L264.54,101.67L265.34,101.41L265.6,100.88L265.6,100.35M261.9,102.46L261.9,100.61M259,94.54L267.45,94.54M259,94.28L267.45,94.28M259,94.54L259,92.69M267.45,94.54L267.45,92.69M260.06,90.85L265.6,90.85M261.9,88.21L264.54,90.85M263.49,89.79L265.6,87.94M261.9,86.36L265.6,86.36M262.96,86.36L262.17,85.57L261.9,85.04L261.9,84.25L262.17,83.72L262.96,83.45L265.6,83.45M262.96,83.45L262.17,82.66L261.9,82.13L261.9,81.34L262.17,80.81L262.96,80.55L265.6,80.55M259,77.12L267.45,77.12M259,76.85L267.45,76.85M259,78.7L259,76.85M267.45,78.7L267.45,76.85"/></g>
</svg>
</body></html>
